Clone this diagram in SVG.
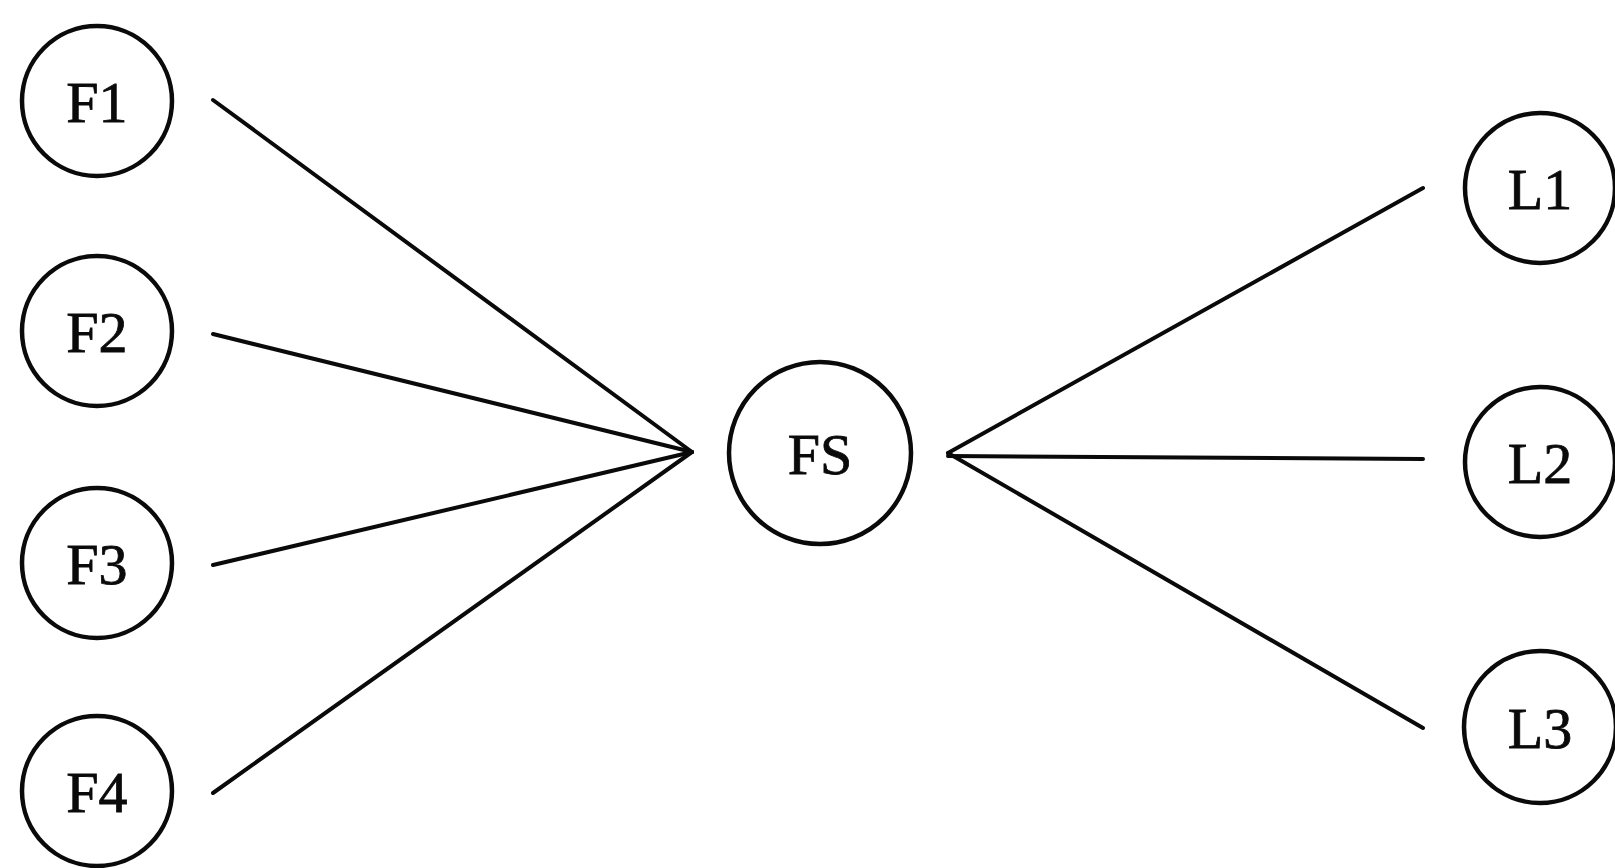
<svg xmlns="http://www.w3.org/2000/svg" width="1615" height="868" viewBox="0 0 1615 868">
  <style>
    .node circle { fill: #ffffff; stroke: #0a0a0a; stroke-width: 4.5; }
    .node text { font-family: "Liberation Serif", "Times New Roman", serif; font-size: 58px; fill: #0a0a0a; stroke: #0a0a0a; stroke-width: 0.8; text-anchor: middle; }
    .edges line { stroke: #0a0a0a; stroke-width: 4; stroke-linecap: round; }
  </style>
  <rect width="1615" height="868" fill="#ffffff"/>

  <!-- connectors: four inputs fan into FS, three outputs fan out -->
  <g id="edges" class="edges">
    <line x1="213" y1="100" x2="692" y2="452"/>
    <line x1="213" y1="334" x2="692" y2="452"/>
    <line x1="213" y1="565" x2="692" y2="452"/>
    <line x1="213" y1="793" x2="692" y2="452"/>
    <line x1="948" y1="453" x2="1423" y2="188"/>
    <line x1="948" y1="456" x2="1423" y2="459"/>
    <line x1="948" y1="453" x2="1423" y2="728"/>
  </g>

  <g id="F1" class="node"><circle cx="97" cy="101" r="75"/><text x="97" y="122">F1</text></g>
  <g id="F2" class="node"><circle cx="97" cy="331" r="75"/><text x="97" y="352">F2</text></g>
  <g id="F3" class="node"><circle cx="97" cy="563" r="75"/><text x="97" y="584">F3</text></g>
  <g id="F4" class="node"><circle cx="97" cy="791" r="75"/><text x="97" y="812">F4</text></g>

  <g id="FS" class="node"><circle cx="820" cy="453" r="91"/><text x="820" y="474">FS</text></g>

  <g id="L1" class="node"><circle cx="1540" cy="188" r="75"/><text x="1540" y="209">L1</text></g>
  <g id="L2" class="node"><circle cx="1540" cy="462" r="75"/><text x="1540" y="483">L2</text></g>
  <g id="L3" class="node"><circle cx="1540" cy="727" r="76"/><text x="1540" y="748">L3</text></g>
</svg>
